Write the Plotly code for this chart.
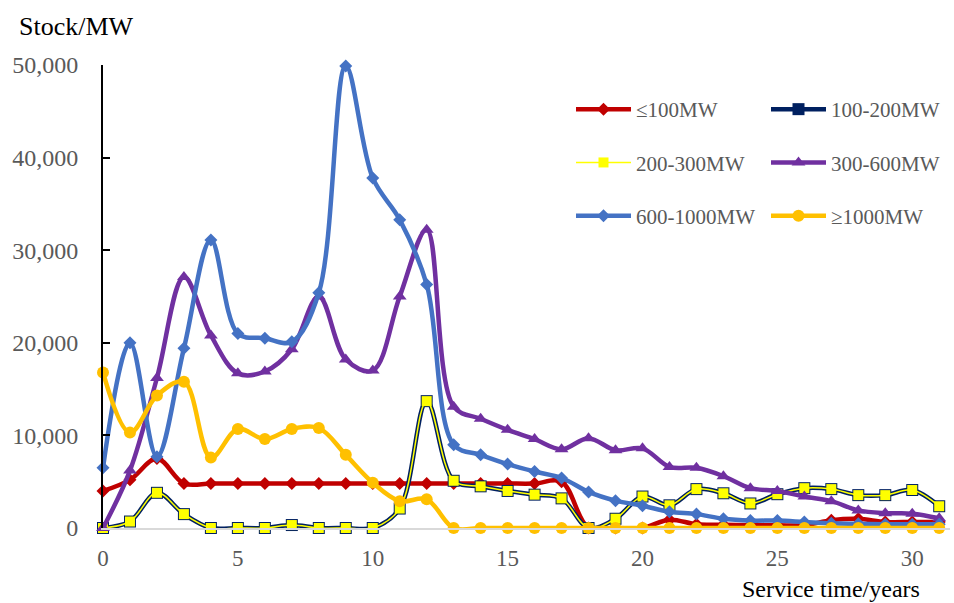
import plotly.graph_objects as go

# Service time in years
years = list(range(32))

# Installed stock (MW) by unit capacity class
stock_le100 = [4000, 5200, 7500, 4800, 4800, 4800, 4800, 4800, 4800, 4800, 4800, 4800,
               4800, 4800, 4800, 4800, 4800, 5000, 0, 0, 0, 900, 400, 350,
               300, 300, 300, 850, 1000, 650, 650, 650]
stock_100_200 = [0, 700, 3800, 1500, 0, 0, 0, 320, 0, 0, 0, 2100,
                 13700, 5100, 4500, 4000, 3600, 3200, 0, 1000, 3400, 2450, 4200, 3750,
                 2650, 3650, 4300, 4200, 3550, 3550, 4100, 2350]
stock_200_300 = [0, 700, 3800, 1500, 0, 0, 0, 320, 0, 0, 0, 2100,
                 13700, 5100, 4500, 4000, 3600, 3200, 0, 1000, 3400, 2450, 4200, 3750,
                 2650, 3650, 4300, 4200, 3550, 3550, 4100, 2350]
stock_300_600 = [0, 6200, 16200, 27100, 20800, 16700, 16900, 19300, 25000, 18200, 17000, 25000,
                 32200, 13100, 11800, 10600, 9600, 8500, 9700, 8400, 8600, 6600, 6500, 5600,
                 4300, 4000, 3400, 2900, 1900, 1600, 1550, 1050]
stock_600_1000 = [6500, 20000, 7700, 19400, 31100, 21000, 20500, 20100, 25400, 49900, 37800, 33300,
                  26300, 9000, 7900, 6900, 6100, 5400, 3900, 2950, 2400, 1750, 1500, 1000,
                  800, 800, 650, 500, 450, 400, 400, 400]
stock_ge1000 = [16800, 10300, 14300, 15800, 7600, 10700, 9600, 10700, 10800, 7900, 4900, 2900,
                3100, 0, 0, 0, 0, 0, 0, 0, 0, 0, 0, 0,
                0, 0, 0, 0, 0, 0, 0, 0]

y_ticks = [0, 10000, 20000, 30000, 40000, 50000]
x_ticks = [0, 5, 10, 15, 20, 25, 30]

SERIF = "Liberation Serif, Times New Roman, serif"
GREY = "#595959"

series = [
    # name, values, line colour, line width, marker symbol, marker size, marker colour, legend, group
    ("≤100MW", stock_le100, "#C00000", 4.5, "diamond", 10, "#C00000", "legend", "a"),
    ("100-200MW", stock_100_200, "#002060", 4.5, "square", 12, "#002060", "legend2", "b"),
    ("200-300MW", stock_200_300, "#FFFF00", 1.5, "square", 10, "#FFFF00", "legend", "c"),
    ("300-600MW", stock_300_600, "#7030A0", 4.5, "triangle-up", 12, "#7030A0", "legend2", "d"),
    ("600-1000MW", stock_600_1000, "#4472C4", 4.5, "diamond", 10, "#4472C4", "legend", "e"),
    ("≥1000MW", stock_ge1000, "#FFC000", 4.5, "circle", 12, "#FFC000", "legend2", "f"),
]

fig = go.Figure()
for name, vals, lc, lw, sym, ms, mc, leg, grp in series:
    fig.add_trace(go.Scatter(
        x=years, y=vals, name=name, mode="lines+markers",
        line=dict(color=lc, width=lw, shape="spline", smoothing=1),
        marker=dict(symbol=sym, size=ms, color=mc, line=dict(width=0)),
        cliponaxis=False, legend=leg, legendgroup=grp,
    ))

legend_style = dict(
    bgcolor="rgba(0,0,0,0)", borderwidth=0,
    font=dict(family=SERIF, size=21, color=GREY),
    itemwidth=55, tracegroupgap=23,
    xanchor="left", yanchor="top", orientation="v",
)

fig.update_layout(
    width=954, height=603,
    margin=dict(l=103, r=4, t=65, b=75),
    paper_bgcolor="white", plot_bgcolor="white",
    showlegend=True,
    legend=dict(x=(571 - 103) / 847, y=(528 - 89) / 463, **legend_style),
    legend2=dict(x=(766 - 103) / 847, y=(528 - 89) / 463, **legend_style),
    xaxis=dict(
        range=[0, 31.4], tickvals=x_ticks, showgrid=False, zeroline=False,
        showline=True, linecolor="#D9D9D9", linewidth=2,
        ticks="outside", ticklen=8, tickcolor="rgba(0,0,0,0)",
        tickfont=dict(family=SERIF, size=23, color=GREY),
    ),
    yaxis=dict(
        range=[0, 50000], tickvals=y_ticks, tickformat=",d", showgrid=False,
        zeroline=False, showline=True, linecolor="black", linewidth=2,
        ticks="inside", ticklen=7, tickwidth=2, tickcolor="black",
        ticklabelstandoff=18,
        tickfont=dict(family=SERIF, size=24, color=GREY),
    ),
    annotations=[
        dict(text="Stock/MW", xref="paper", yref="paper",
             x=(17 - 103) / 847, y=(528 - 27) / 463, xanchor="left", yanchor="middle",
             showarrow=False, font=dict(family=SERIF, size=26, color="black")),
        dict(text="Service time/years", xref="paper", yref="paper",
             x=(740 - 103) / 847, y=(528 - 589) / 463, xanchor="left", yanchor="middle",
             showarrow=False, font=dict(family=SERIF, size=24, color="black")),
    ],
)

fig.write_html("out.html")
